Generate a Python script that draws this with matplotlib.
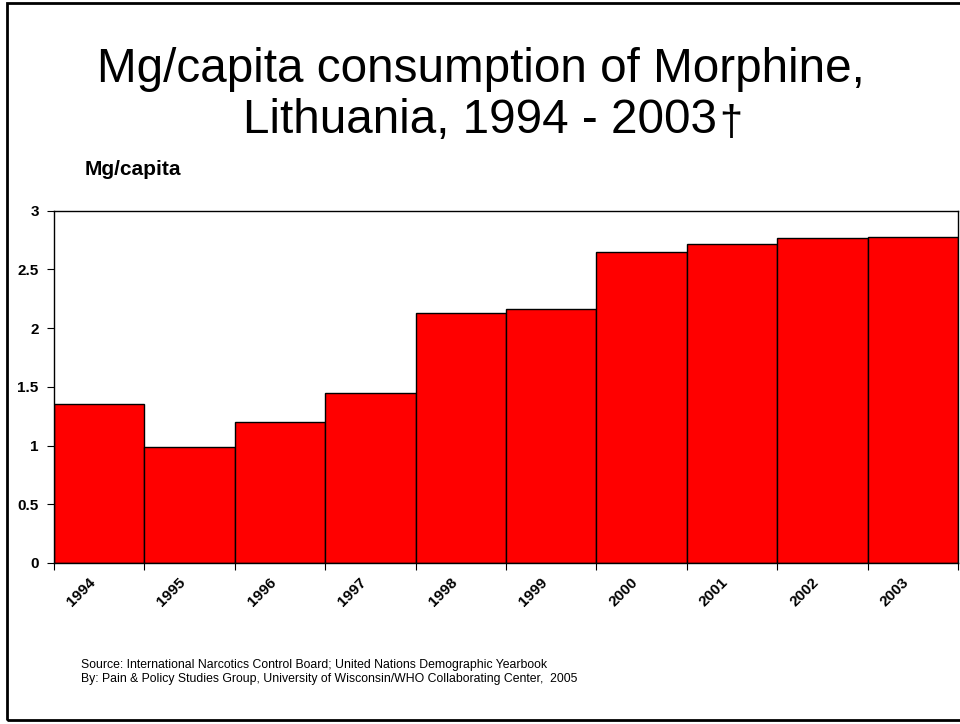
import numpy as np
import matplotlib
matplotlib.use("Agg")
import matplotlib.pyplot as plt
from matplotlib.patches import Rectangle
import matplotlib.transforms as mtransforms

plt.rcParams['font.family'] = ['Liberation Sans', 'DejaVu Sans']

# Данные
years = ['1994', '1995', '1996', '1997', '1998', '1999', '2000', '2001', '2002', '2003']
mg_per_capita = [1.35, 0.99, 1.20, 1.445, 2.13, 2.165, 2.645, 2.72, 2.765, 2.78]
y_ticks = [0, 0.5, 1, 1.5, 2, 2.5, 3]
y_tick_labels = ['0', '0.5', '1', '1.5', '2', '2.5', '3']

fig = plt.figure(figsize=(9.6, 7.24), dpi=100)
ax = fig.add_axes([54/960, 1 - 563/724, (958 - 54)/960, (563 - 210.7)/724])

x = np.arange(len(years))
ax.bar(x, mg_per_capita, width=1.0, color='#ff0000', edgecolor='black', linewidth=1)

ax.set_xlim(-0.5, len(years) - 0.5)
ax.set_ylim(0, 3)

# Деления на границах столбцов, подписи по центру
ax.set_xticks(np.arange(len(years) + 1) - 0.5)
ax.set_xticklabels([])
ax.set_xticks(x, minor=True)
ax.set_xticklabels(years, minor=True, rotation=45, ha='right', va='top',
                   fontsize=11, fontweight='bold')
ax.tick_params(axis='x', which='minor', length=0, pad=9)
ax.tick_params(axis='x', which='major', length=5, direction='out', width=0.8)
offset = mtransforms.ScaledTranslation(-1/100, 0, fig.dpi_scale_trans)
for lbl in ax.get_xticklabels(minor=True):
    lbl.set_transform(lbl.get_transform() + offset)

ax.set_yticks(y_ticks)
ax.set_yticklabels(y_tick_labels, fontsize=11, fontweight='bold')
ax.tick_params(axis='y', length=5, direction='out', width=0.8, pad=6)

for s in ax.spines.values():
    s.set_linewidth(1)
    s.set_color('black')

# Заголовок
fig.text(481/960, 1 - 82/724, 'Mg/capita consumption of Morphine,',
         ha='center', va='baseline', fontsize=34.3)
t2 = fig.text(480/960, 1 - 133/724, 'Lithuania, 1994 - 2003',
              ha='center', va='baseline', fontsize=34.3)
fig.canvas.draw()
bb = t2.get_window_extent()
fig.text((bb.x1 + 2) / 960, 1 - 144/724, '\u2020', ha='left', va='bottom', fontsize=30)

fig.text(85/960, 1 - 175/724, 'Mg/capita', ha='left', va='baseline',
         fontsize=15, fontweight='bold')

# Источник
fig.text(81/960, 1 - 668/724,
         'Source: International Narcotics Control Board; United Nations Demographic Yearbook',
         ha='left', va='baseline', fontsize=8.8)
fig.text(81/960, 1 - 682/724,
         'By: Pain & Policy Studies Group, University of Wisconsin/WHO Collaborating Center,  2005',
         ha='left', va='baseline', fontsize=8.8)

# Рамка слайда
fig.patches.append(Rectangle((7/960, 4/724), 1.0, 717/724, transform=fig.transFigure,
                             fill=False, edgecolor='black', linewidth=2))

fig.savefig('out.png', dpi=100)
